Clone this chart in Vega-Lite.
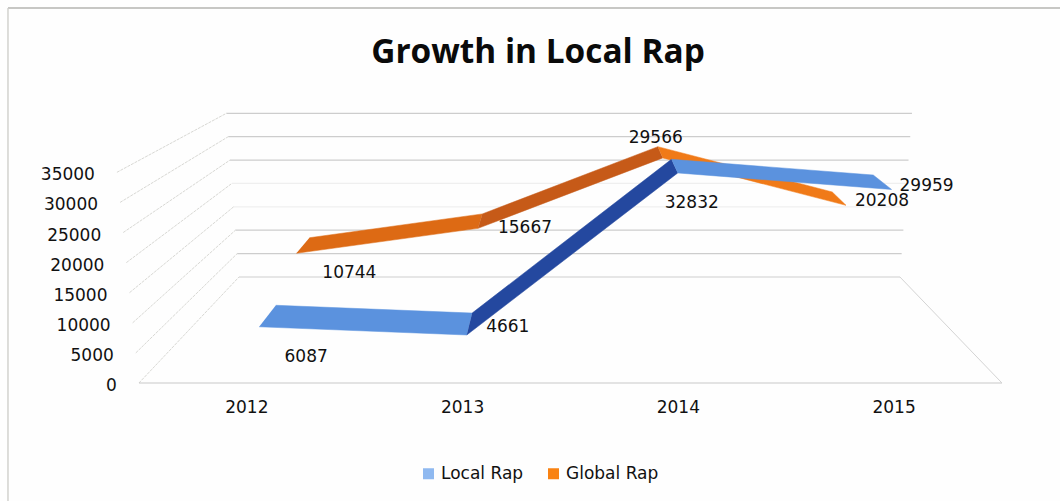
{
  "$schema": "https://vega.github.io/schema/vega-lite/v6.json",
  "width": 1060,
  "height": 501,
  "padding": 0,
  "autosize": "none",
  "background": "#fefefe",
  "title": {"text": "Growth in Local Rap", "font": "Open Sans", "fontSize": 33.4, "fontWeight": 700, "color": "#0a0a0a", "anchor": "middle", "dx": 8, "dy": 70, "offset": 0},
  "config": {"view": {"stroke": null}, "axis": {"disable": true}},
  "datasets": {
    "plays": [
      {"series": "Global Rap", "year": 2012, "value": 10744},
      {"series": "Global Rap", "year": 2013, "value": 15667},
      {"series": "Global Rap", "year": 2014, "value": 29566},
      {"series": "Global Rap", "year": 2015, "value": 20208},
      {"series": "Local Rap", "year": 2012, "value": 6087},
      {"series": "Local Rap", "year": 2013, "value": 4661},
      {"series": "Local Rap", "year": 2014, "value": 32832},
      {"series": "Local Rap", "year": 2015, "value": 29959}
    ],
    "ticks": [
      {"value": 0}, {"value": 5000}, {"value": 10000}, {"value": 15000},
      {"value": 20000}, {"value": 25000}, {"value": 30000}, {"value": 35000}
    ],
    "years": [{"year": 2012}, {"year": 2013}, {"year": 2014}, {"year": 2015}],
    "frame": [{"edge": "top"}, {"edge": "left"}]
  },
  "encoding": {
    "x": {"field": "px", "type": "quantitative", "scale": {"domain": [2010.856, 2015.769], "nice": false, "zero": false}},
    "y": {"field": "py", "type": "quantitative", "scale": {"domain": [-19601, 63621], "nice": false, "zero": false}}
  },
  "layer": [
    {
      "description": "Chart area border along the top and left",
      "data": {"name": "frame"},
      "transform": [
        {"calculate": "2010.893", "as": "px"},
        {"calculate": "datum.edge=='top'?2015.769:2010.893", "as": "px2"},
        {"calculate": "62292", "as": "py"},
        {"calculate": "datum.edge=='top'?62292:-19601", "as": "py2"}
      ],
      "mark": {"type": "rule", "strokeWidth": 1.4},
      "encoding": {
        "x2": {"field": "px2"},
        "y2": {"field": "py2"},
        "color": {"condition": {"test": "datum.edge=='top'", "value": "#b4b4b0"}, "value": "#cfcfcb"}
      }
    },
    {
      "description": "Back wall gridlines of the 3D box",
      "data": {"name": "ticks"},
      "transform": [
        {"calculate": "datum.value/35000", "as": "u"},
        {"calculate": "2011.5+4*(0.1159-0.0145*datum.u)", "as": "px"},
        {"calculate": "2011.5+4*(0.8818+0.0139*datum.u)", "as": "px2"},
        {"calculate": "datum.value*0.777+17608", "as": "py"}
      ],
      "mark": {"type": "rule", "color": "#cdcdcd", "strokeWidth": 1.2},
      "encoding": {
        "x2": {"field": "px2"},
        "opacity": {"condition": {"test": "datum.value==15000||datum.value==20000", "value": 0.3}, "value": 1}
      }
    },
    {
      "description": "Side wall gridlines running from the value labels to the back wall",
      "data": {"name": "ticks"},
      "transform": [
        {"calculate": "datum.value/35000", "as": "u"},
        {"calculate": "2011.5+4*(-0.0255*datum.u)", "as": "px"},
        {"calculate": "2011.5+4*(0.1159-0.0145*datum.u)", "as": "px2"},
        {"calculate": "datum.value", "as": "py"},
        {"calculate": "datum.value*0.777+17608", "as": "py2"}
      ],
      "mark": {"type": "rule", "color": "#d8d8d4", "strokeWidth": 1, "strokeDash": [3, 1]},
      "encoding": {"x2": {"field": "px2"}, "y2": {"field": "py2"}}
    },
    {
      "description": "Front edge of the floor",
      "data": {"name": "ticks"},
      "transform": [
        {"filter": "datum.value==0"},
        {"calculate": "2011.5", "as": "px"},
        {"calculate": "2015.5", "as": "px2"},
        {"calculate": "datum.value", "as": "py"}
      ],
      "mark": {"type": "rule", "color": "#c8c8c8", "strokeWidth": 1.2},
      "encoding": {"x2": {"field": "px2"}}
    },
    {
      "description": "Right edge of the floor",
      "data": {"name": "ticks"},
      "transform": [
        {"filter": "datum.value==0"},
        {"calculate": "2015.5", "as": "px"},
        {"calculate": "2011.5+4*0.8818", "as": "px2"},
        {"calculate": "datum.value", "as": "py"},
        {"calculate": "17608", "as": "py2"}
      ],
      "mark": {"type": "rule", "color": "#d4d4d4", "strokeWidth": 1},
      "encoding": {"x2": {"field": "px2"}, "y2": {"field": "py2"}}
    },
    {
      "description": "Series ribbons, one filled quadrilateral per year-to-year segment, projected into the box",
      "data": {"name": "plays"},
      "transform": [
        {"window": [{"op": "lead", "field": "value", "as": "nextValue"}, {"op": "lead", "field": "year", "as": "nextYear"}], "groupby": ["series"], "sort": [{"field": "year"}]},
        {"filter": "datum.nextYear != null"},
        {"calculate": "datum.series+' '+datum.year", "as": "face"},
        {"calculate": "[0,1,2,3]", "as": "corner"},
        {"flatten": ["corner"]},
        {"calculate": "(datum.corner==0||datum.corner==3)?datum.year:datum.nextYear", "as": "yr"},
        {"calculate": "(datum.corner==0||datum.corner==3)?datum.value:datum.nextValue", "as": "v"},
        {"calculate": "datum.series=='Local Rap'?(datum.corner<2?0.2:0.42):(datum.corner<2?0.71:0.88)", "as": "d"},
        {"calculate": "datum.v/35000", "as": "u"},
        {"calculate": "(1-datum.d)*(-0.0255*datum.u)+datum.d*(0.1159-0.0145*datum.u)", "as": "l"},
        {"calculate": "(1-datum.d)*(1+0.0255*datum.u)+datum.d*(0.8818+0.0139*datum.u)", "as": "r"},
        {"calculate": "2011.5+4*(datum.l+(datum.yr-2011.5)/4*(datum.r-datum.l))", "as": "px"},
        {"calculate": "datum.v*(1-0.223*datum.d)+17608*datum.d", "as": "py"}
      ],
      "mark": {"type": "line", "filled": true, "strokeWidth": 0.5, "interpolate": "linear"},
      "encoding": {
        "order": {"field": "corner", "type": "quantitative"},
        "detail": {"field": "face"},
        "fill": {
          "field": "face",
          "type": "nominal",
          "scale": {
            "domain": ["Local Rap", "Global Rap", "Local Rap 2012", "Local Rap 2013", "Local Rap 2014", "Global Rap 2012", "Global Rap 2013", "Global Rap 2014"],
            "range": ["#8fb9f0", "#f98212", "#5b92de", "#24489f", "#5b92de", "#dd6a14", "#c65a18", "#f07a18"]
          },
          "legend": {
            "values": ["Local Rap", "Global Rap"],
            "title": null,
            "orient": "none",
            "legendX": 420,
            "legendY": 465,
            "direction": "horizontal",
            "columns": 2,
            "symbolType": "square",
            "symbolSize": 121,
            "symbolStrokeWidth": 0,
            "labelFont": "DejaVu Sans",
            "labelFontSize": 17,
            "labelColor": "#111111",
            "labelOffset": 4,
            "columnPadding": 21
          }
        },
        "stroke": {"field": "face", "type": "nominal", "legend": null, "scale": {
            "domain": ["Local Rap", "Global Rap", "Local Rap 2012", "Local Rap 2013", "Local Rap 2014", "Global Rap 2012", "Global Rap 2013", "Global Rap 2014"],
            "range": ["#8fb9f0", "#f98212", "#5b92de", "#24489f", "#5b92de", "#dd6a14", "#c65a18", "#f07a18"]
        }}
      }
    },
    {
      "description": "Value labels beside the front edge of each ribbon point",
      "data": {"name": "plays"},
      "transform": [
        {"calculate": "datum.series=='Local Rap'?0.2:0.71", "as": "d"},
        {"calculate": "datum.value/35000", "as": "u"},
        {"calculate": "(1-datum.d)*(-0.0255*datum.u)+datum.d*(0.1159-0.0145*datum.u)", "as": "l"},
        {"calculate": "(1-datum.d)*(1+0.0255*datum.u)+datum.d*(0.8818+0.0139*datum.u)", "as": "r"},
        {"calculate": "2011.5+4*(datum.l+(datum.year-2011.5)/4*(datum.r-datum.l))", "as": "px"},
        {"calculate": "datum.value*(1-0.223*datum.d)+17608*datum.d", "as": "py"}
      ],
      "encoding": {"text": {"field": "value", "type": "quantitative", "format": "d"}},
      "layer": [
        {"transform": [{"filter": "datum.value==6087"}], "mark": {"type": "text", "font": "DejaVu Sans", "fontSize": 17, "fill": "#111111", "dx": 47, "dy": 30}},
        {"transform": [{"filter": "datum.value==4661"}], "mark": {"type": "text", "font": "DejaVu Sans", "fontSize": 17, "fill": "#111111", "dx": 41, "dy": -8}},
        {"transform": [{"filter": "datum.value==32832"}], "mark": {"type": "text", "font": "DejaVu Sans", "fontSize": 17, "fill": "#111111", "dx": 14, "dy": 30}},
        {"transform": [{"filter": "datum.value==29959"}], "mark": {"type": "text", "font": "DejaVu Sans", "fontSize": 17, "fill": "#111111", "dx": 35, "dy": -3}},
        {"transform": [{"filter": "datum.value==10744"}], "mark": {"type": "text", "font": "DejaVu Sans", "fontSize": 17, "fill": "#111111", "dx": 53, "dy": 20}},
        {"transform": [{"filter": "datum.value==15667"}], "mark": {"type": "text", "font": "DejaVu Sans", "fontSize": 17, "fill": "#111111", "dx": 47, "dy": 0}},
        {"transform": [{"filter": "datum.value==29566"}], "mark": {"type": "text", "font": "DejaVu Sans", "fontSize": 17, "fill": "#111111", "dx": -7, "dy": -20}},
        {"transform": [{"filter": "datum.value==20208"}], "mark": {"type": "text", "font": "DejaVu Sans", "fontSize": 17, "fill": "#111111", "dx": 36, "dy": -4}}
      ]
    },
    {
      "description": "Value axis labels along the slanted front edge of the side wall",
      "data": {"name": "ticks"},
      "transform": [
        {"calculate": "2011.5+4*(-0.0255*datum.value/35000)", "as": "px"},
        {"calculate": "datum.value", "as": "py"}
      ],
      "mark": {"type": "text", "font": "DejaVu Sans", "fontSize": 17, "fill": "#111111", "align": "right", "dx": -22, "dy": 3},
      "encoding": {"text": {"field": "value", "type": "quantitative", "format": "d"}}
    },
    {
      "description": "Year labels under the floor",
      "data": {"name": "years"},
      "transform": [
        {"calculate": "datum.year", "as": "px"},
        {"calculate": "0", "as": "py"}
      ],
      "mark": {"type": "text", "font": "DejaVu Sans", "fontSize": 17, "fill": "#111111", "dy": 25},
      "encoding": {"text": {"field": "year", "type": "quantitative", "format": "d"}}
    }
  ]
}
